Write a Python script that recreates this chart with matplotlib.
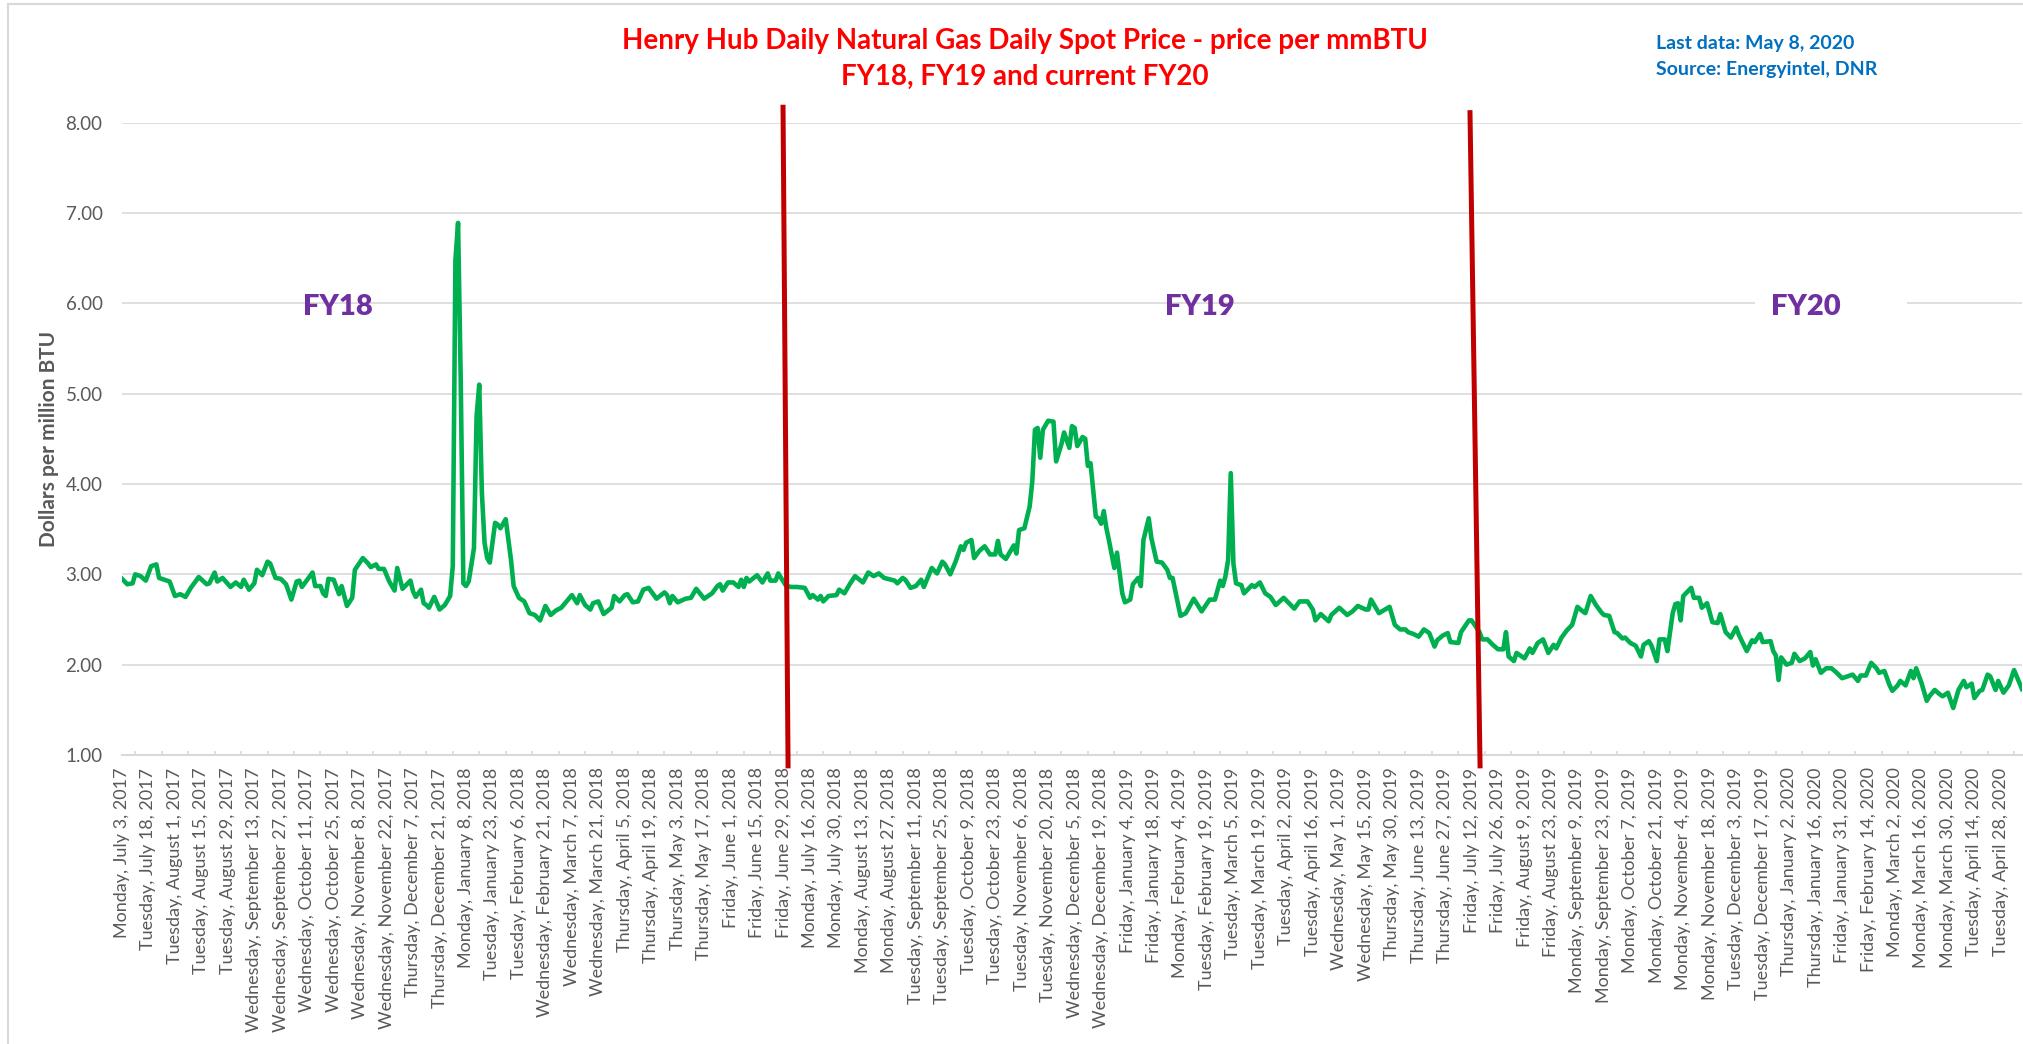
import numpy as np
import matplotlib.pyplot as plt
from matplotlib.lines import Line2D
from matplotlib.patches import Rectangle

plt.rcParams['font.family'] = ['Lato', 'DejaVu Sans']

# Etiquetas del eje x (cada 10 días hábiles)
tick_labels = [
    "Monday, July 3, 2017", "Tuesday, July 18, 2017", "Tuesday, August 1, 2017",
    "Tuesday, August 15, 2017", "Tuesday, August 29, 2017", "Wednesday, September 13, 2017",
    "Wednesday, September 27, 2017", "Wednesday, October 11, 2017", "Wednesday, October 25, 2017",
    "Wednesday, November 8, 2017", "Wednesday, November 22, 2017", "Thursday, December 7, 2017",
    "Thursday, December 21, 2017", "Monday, January 8, 2018", "Tuesday, January 23, 2018",
    "Tuesday, February 6, 2018", "Wednesday, February 21, 2018", "Wednesday, March 7, 2018",
    "Wednesday, March 21, 2018", "Thursday, April 5, 2018", "Thursday, April 19, 2018",
    "Thursday, May 3, 2018", "Thursday, May 17, 2018", "Friday, June 1, 2018",
    "Friday, June 15, 2018", "Friday, June 29, 2018", "Monday, July 16, 2018",
    "Monday, July 30, 2018", "Monday, August 13, 2018", "Monday, August 27, 2018",
    "Tuesday, September 11, 2018", "Tuesday, September 25, 2018", "Tuesday, October 9, 2018",
    "Tuesday, October 23, 2018", "Tuesday, November 6, 2018", "Tuesday, November 20, 2018",
    "Wednesday, December 5, 2018", "Wednesday, December 19, 2018", "Friday, January 4, 2019",
    "Friday, January 18, 2019", "Monday, February 4, 2019", "Tuesday, February 19, 2019",
    "Tuesday, March 5, 2019", "Tuesday, March 19, 2019", "Tuesday, April 2, 2019",
    "Tuesday, April 16, 2019", "Wednesday, May 1, 2019", "Wednesday, May 15, 2019",
    "Thursday, May 30, 2019", "Thursday, June 13, 2019", "Thursday, June 27, 2019",
    "Friday, July 12, 2019", "Friday, July 26, 2019", "Friday, August 9, 2019",
    "Friday, August 23, 2019", "Monday, September 9, 2019", "Monday, September 23, 2019",
    "Monday, October 7, 2019", "Monday, October 21, 2019", "Monday, November 4, 2019",
    "Monday, November 18, 2019", "Tuesday, December 3, 2019", "Tuesday, December 17, 2019",
    "Thursday, January 2, 2020", "Thursday, January 16, 2020", "Friday, January 31, 2020",
    "Friday, February 14, 2020", "Monday, March 2, 2020", "Monday, March 16, 2020",
    "Monday, March 30, 2020", "Tuesday, April 14, 2020", "Tuesday, April 28, 2020",
]

# Día hábil (0 = 3 jul 2017) y precio spot ($/mmBTU)
day = [
    0, 2, 4, 5, 7, 9, 11, 13, 14, 16, 18, 20, 22, 24, 26, 29, 32, 33, 35, 36,
    38, 41, 43, 45, 46, 48, 50, 51, 53, 55, 56, 58, 60, 62, 64, 66, 67, 68, 70, 72,
    73, 75, 76, 77, 78, 80, 82, 83, 85, 87, 88, 91, 93, 94, 96, 97, 99, 101, 103, 104,
    106, 108, 109, 110, 111, 113, 114, 115, 116, 118, 120, 122, 124, 125, 126, 127, 128, 129, 130, 131,
    132, 133, 134, 135, 136, 137, 138, 139, 141, 142, 143, 145, 147, 148, 150, 152, 154, 156, 158, 160,
    162, 164, 166, 168, 170, 172, 173, 175, 177, 178, 180, 182, 185, 186, 188, 190, 191, 193, 195, 197,
    199, 202, 205, 206, 207, 208, 210, 213, 215, 217, 220, 223, 225, 226, 227, 229, 231, 233, 234, 235,
    236, 237, 240, 242, 244, 245, 247, 248, 251, 253, 255, 258, 260, 261, 263, 264, 265, 267, 270, 271,
    273, 275, 277, 280, 282, 284, 286, 288, 292, 293, 295, 296, 298, 300, 302, 303, 306, 308, 310, 311,
    313, 315, 317, 318, 319, 321, 322, 324, 326, 328, 330, 331, 332, 334, 336, 337, 338, 339, 341, 343,
    344, 345, 346, 347, 348, 350, 352, 353, 355, 356, 358, 359, 360, 361, 363, 364, 365, 366, 368, 369,
    370, 371, 372, 373, 375, 376, 378, 379, 381, 382, 384, 385, 386, 388, 389, 391, 393, 395, 396, 397,
    400, 402, 405, 408, 411, 413, 415, 416, 417, 418, 419, 420, 421, 423, 424, 427, 428, 430, 432, 434,
    436, 439, 441, 443, 445, 448, 450, 451, 453, 456, 457, 460, 463, 465, 467, 470, 471, 472, 475, 479,
    481, 483, 485, 486, 488, 490, 492, 494, 496, 497, 499, 501, 502, 505, 506, 509, 510, 513, 514, 516,
    518, 520, 522, 523, 524, 526, 527, 530, 532, 533, 535, 537, 539, 541, 542, 544, 546, 548, 550, 552,
    553, 555, 557, 559, 560, 562, 564, 565, 567, 568, 570, 572, 574, 575, 577, 578, 580, 581, 583, 584,
    586, 587, 588, 589, 590, 591, 593, 594, 596, 597, 599, 601, 603, 604, 606, 608, 610, 611, 614, 616,
    617, 619, 620, 623, 624, 625, 626, 627, 629, 631, 632, 634, 636, 638, 639, 640, 642, 644, 646, 648,
    650, 652, 654, 656, 657, 659, 661, 663, 664, 666, 668, 669, 671, 672, 674, 676, 677, 678, 680, 682,
    683, 685, 687, 688, 690, 692, 694, 696, 697, 699, 700, 702, 703, 705, 706, 708, 709, 711, 713, 715,
    716, 718,
]
price = [
    2.95, 2.89, 2.90, 3.00, 2.98, 2.93, 3.09, 3.11, 2.96, 2.94, 2.92, 2.76, 2.78, 2.75, 2.85, 2.97, 2.89, 2.90, 3.02, 2.92,
    2.96, 2.86, 2.91, 2.86, 2.94, 2.83, 2.90, 3.05, 2.99, 3.14, 3.12, 2.96, 2.95, 2.89, 2.72, 2.92, 2.93, 2.86, 2.94, 3.02,
    2.87, 2.87, 2.79, 2.76, 2.95, 2.94, 2.78, 2.87, 2.65, 2.74, 3.05, 3.18, 3.12, 3.08, 3.11, 3.06, 3.06, 2.92, 2.82, 3.07,
    2.84, 2.90, 2.93, 2.81, 2.75, 2.83, 2.68, 2.66, 2.63, 2.75, 2.61, 2.66, 2.76, 3.09, 6.48, 6.89, 5.15, 2.90, 2.87, 2.92,
    3.10, 3.29, 4.75, 5.10, 3.90, 3.35, 3.18, 3.13, 3.57, 3.55, 3.51, 3.61, 3.16, 2.87, 2.74, 2.70, 2.57, 2.55, 2.49, 2.65,
    2.55, 2.60, 2.63, 2.70, 2.77, 2.68, 2.77, 2.66, 2.61, 2.68, 2.70, 2.56, 2.63, 2.76, 2.70, 2.77, 2.78, 2.69, 2.70, 2.83,
    2.85, 2.73, 2.80, 2.77, 2.68, 2.76, 2.69, 2.73, 2.74, 2.84, 2.73, 2.79, 2.87, 2.89, 2.82, 2.91, 2.91, 2.86, 2.94, 2.86,
    2.96, 2.92, 2.99, 2.91, 3.01, 2.93, 2.93, 3.01, 2.87, 2.86, 2.86, 2.85, 2.74, 2.77, 2.72, 2.76, 2.70, 2.76, 2.77, 2.83,
    2.79, 2.89, 2.98, 2.91, 3.02, 2.98, 3.01, 2.96, 2.93, 2.90, 2.96, 2.94, 2.85, 2.87, 2.94, 2.86, 3.07, 3.01, 3.14, 3.11,
    3.00, 3.14, 3.31, 3.27, 3.35, 3.38, 3.18, 3.26, 3.31, 3.22, 3.22, 3.37, 3.22, 3.17, 3.27, 3.32, 3.23, 3.49, 3.51, 3.75,
    4.03, 4.60, 4.62, 4.29, 4.60, 4.70, 4.69, 4.25, 4.44, 4.57, 4.40, 4.64, 4.62, 4.42, 4.52, 4.50, 4.20, 4.23, 3.64, 3.62,
    3.56, 3.70, 3.51, 3.37, 3.07, 3.24, 2.79, 2.69, 2.72, 2.89, 2.96, 2.87, 3.38, 3.62, 3.40, 3.14, 3.13, 3.05, 2.96, 2.96,
    2.54, 2.57, 2.73, 2.59, 2.72, 2.72, 2.93, 2.87, 2.98, 3.16, 4.12, 3.12, 2.90, 2.88, 2.79, 2.88, 2.86, 2.91, 2.79, 2.75,
    2.66, 2.74, 2.68, 2.62, 2.70, 2.70, 2.61, 2.49, 2.56, 2.48, 2.55, 2.63, 2.55, 2.59, 2.65, 2.61, 2.61, 2.72, 2.57, 2.64,
    2.44, 2.39, 2.39, 2.36, 2.34, 2.31, 2.39, 2.35, 2.20, 2.27, 2.32, 2.35, 2.25, 2.24, 2.36, 2.49, 2.49, 2.36, 2.28, 2.28,
    2.22, 2.17, 2.17, 2.36, 2.09, 2.04, 2.13, 2.07, 2.18, 2.13, 2.24, 2.28, 2.13, 2.22, 2.18, 2.30, 2.38, 2.44, 2.64, 2.59,
    2.57, 2.76, 2.66, 2.58, 2.55, 2.54, 2.36, 2.35, 2.29, 2.30, 2.24, 2.21, 2.09, 2.22, 2.26, 2.21, 2.04, 2.28, 2.28, 2.15,
    2.57, 2.67, 2.68, 2.49, 2.76, 2.79, 2.85, 2.74, 2.74, 2.63, 2.68, 2.47, 2.46, 2.56, 2.36, 2.30, 2.41, 2.33, 2.15, 2.27,
    2.25, 2.34, 2.25, 2.26, 2.15, 2.10, 1.83, 2.08, 2.00, 2.02, 2.12, 2.04, 2.07, 2.14, 1.99, 2.06, 1.91, 1.96, 1.96, 1.91,
    1.85, 1.87, 1.89, 1.82, 1.88, 1.88, 2.02, 1.96, 1.91, 1.93, 1.77, 1.71, 1.77, 1.82, 1.77, 1.93, 1.85, 1.96, 1.80, 1.60,
    1.65, 1.72, 1.67, 1.65, 1.69, 1.52, 1.72, 1.82, 1.75, 1.79, 1.63, 1.71, 1.72, 1.89, 1.87, 1.72, 1.82, 1.69, 1.77, 1.94,
    1.87, 1.73,
]

fy_labels = ["FY18", "FY19", "FY20"]
fy_label_day = [81.6, 407.4, 636.4]

grey = '#595959'
W, H = 2024, 1044

fig = plt.figure(figsize=(W / 100, H / 100), dpi=100)
ax = fig.add_axes([122 / W, 289 / H, 1900 / W, 632.4 / H])

ax.plot(day, price, color='#00B050', lw=3.3, solid_joinstyle='round', zorder=3)

ax.set_xlim(0, 718)
ax.set_ylim(1, 8)
ax.set_yticks(np.arange(1, 9))
ax.set_yticklabels([f"{v:.2f}" for v in np.arange(1, 9)])
ax.grid(axis='y', color='#D9D9D9', lw=1.2)
ax.set_axisbelow(True)
for s in ['top', 'right', 'left']:
    ax.spines[s].set_visible(False)
ax.spines['bottom'].set_color('#D9D9D9')
ax.spines['bottom'].set_linewidth(1.5)

xt = np.arange(len(tick_labels)) * 10
ax.set_xticks(xt)
ax.set_xticklabels(tick_labels, rotation=90, fontsize=13, color=grey)
ax.set_xticks(xt + 5, minor=True)
ax.tick_params(axis='x', which='major', length=0, pad=9)
ax.tick_params(axis='x', which='minor', direction='in', length=3, width=1.2, color='#D9D9D9')
ax.tick_params(axis='y', length=0, pad=14, labelsize=13.5, labelcolor=grey)

# Líneas de separación de años fiscales
ax.plot([249.8, 251.7], [8.17, 0.88], color='#C00000', lw=3.6, clip_on=False, zorder=5)
ax.plot([509.4, 513.2], [8.11, 0.88], color='#C00000', lw=3.6, clip_on=False, zorder=5)

ax.add_patch(Rectangle((617, 5.8), 57.5, 0.35, fc='white', ec='none', zorder=1))
for lab, d in zip(fy_labels, fy_label_day):
    ax.text(d, 5.96, lab, color='#7030A0', fontsize=21, fontweight='heavy',
            ha='center', va='center', zorder=4)

fig.text(49 / W, 1 - 439 / H, "Dollars per million BTU", rotation=90, ha='center',
         va='center', fontsize=15, fontweight='bold', color=grey)

fig.text(1025 / W, 1 - 41 / H, "Henry Hub Daily Natural Gas Daily Spot Price - price per mmBTU",
         ha='center', va='center', fontsize=20, fontweight='bold', color='#FF0000')
fig.text(1025 / W, 1 - 77 / H, "FY18, FY19 and current FY20",
         ha='center', va='center', fontsize=20, fontweight='bold', color='#FF0000')

fig.text(1656 / W, 1 - 43 / H, "Last data: May 8, 2020", ha='left', va='center',
         fontsize=14, fontweight='bold', color='#0070C0')
fig.text(1656 / W, 1 - 69 / H, "Source: Energyintel, DNR", ha='left', va='center',
         fontsize=14, fontweight='bold', color='#0070C0')

# Borde del área del gráfico
fig.add_artist(Line2D([8 / W, 8 / W], [0, 1 - 4 / H], color='#D9D9D9', lw=1.5))
fig.add_artist(Line2D([8 / W, 1], [1 - 4 / H, 1 - 4 / H], color='#D9D9D9', lw=1.5))

fig.savefig("out.png", dpi=100)
